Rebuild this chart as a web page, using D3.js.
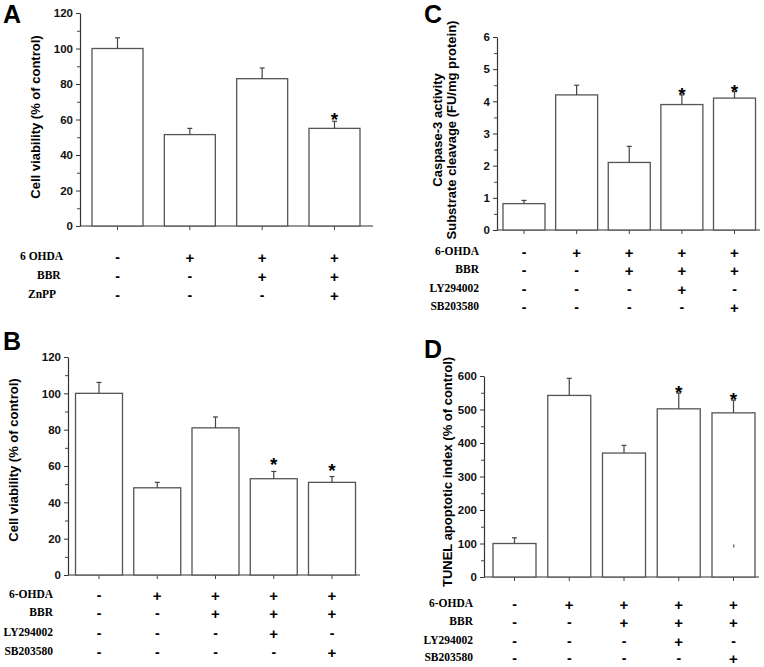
<!DOCTYPE html>
<html>
<head>
<meta charset="utf-8">
<script src="https://cdn.jsdelivr.net/npm/d3@7"></script>
<style>
  body { margin: 0; background: #fff; }
  svg { display: block; }
  .tick text { font-family: Arial, "Liberation Sans", sans-serif; font-weight: bold; font-size: 11.5px; fill: #111; }
</style>
</head>
<body>
<div id="chart"></div>
<script>
// ---- data ----
var groupsA = ["Control", "6-OHDA", "6-OHDA+BBR", "6-OHDA+BBR+ZnPP"];
var valuesA = [100, 51.5, 83, 55];
var errorsA = [6, 3.5, 6, 4];
var starsA = [false, false, false, true];
var rowsA = ["6 OHDA", "BBR", "ZnPP"];
var signsA = [["-", "+", "+", "+"], ["-", "-", "+", "+"], ["-", "-", "-", "+"]];

var groupsB = ["Control", "6-OHDA", "6-OHDA+BBR", "+LY294002", "+SB203580"];
var valuesB = [100, 48, 81, 53, 51];
var errorsB = [6, 3, 6, 4, 3.2];
var starsB = [false, false, false, true, true];

var groupsC = groupsB;
var valuesC = [0.82, 4.2, 2.1, 3.9, 4.1];
var errorsC = [0.1, 0.3, 0.5, 0.3, 0.2];
var starsC = [false, false, false, true, true];

var groupsD = groupsB;
var valuesD = [100, 542, 370, 502, 490];
var errorsD = [17, 51, 23, 47, 38];
var starsD = [false, false, false, true, true];

var rowsBCD = ["6-OHDA", "BBR", "LY294002", "SB203580"];
var signsBCD = [["-", "+", "+", "+", "+"], ["-", "-", "+", "+", "+"], ["-", "-", "-", "+", "-"], ["-", "-", "-", "-", "+"]];

var ticksA = [0, 20, 40, 60, 80, 100, 120];
var ticksC = [0, 1, 2, 3, 4, 5, 6];
var ticksD = [0, 100, 200, 300, 400, 500, 600];

var svg = d3.select("#chart").append("svg")
  .attr("width", 764)
  .attr("height", 667);

function drawPanel(p) {
  var g = svg.append("g");

  var n = p.groups.length;
  var step = (p.c1 - p.c0) / (n - 1);
  var pi = 1 - p.bw / step;
  var x = d3.scaleBand()
    .domain(p.groups)
    .range([p.c0 - step / 2, p.c1 + step / 2])
    .paddingInner(pi)
    .paddingOuter(pi / 2);

  var y = d3.scaleLinear()
    .domain([0, d3.max(p.ticks)])
    .range([p.y0, p.y1]);

  // panel letter
  g.append("text")
    .attr("x", p.letterX).attr("y", p.letterY)
    .attr("font-family", "Arial, 'Liberation Sans', sans-serif")
    .attr("font-weight", "bold").attr("font-size", 25)
    .text(p.letter);

  // minor ticks
  var minor = [];
  for (var i = 0; i < p.ticks.length - 1; i++) minor.push((p.ticks[i] + p.ticks[i + 1]) / 2);
  g.append("g")
    .attr("transform", "translate(" + p.ax + ",0)")
    .call(d3.axisLeft(y).tickValues(minor).tickSize(3).tickFormat(""))
    .call(function(s) { s.select(".domain").remove(); s.selectAll("line").attr("stroke", "#444"); });

  // y axis
  g.append("g")
    .attr("transform", "translate(" + p.ax + ",0)")
    .call(d3.axisLeft(y).tickValues(p.ticks).tickFormat(d3.format("d")).tickSize(4).tickSizeOuter(0).tickPadding(3))
    .call(function(s) {
      s.select(".domain").attr("stroke", "#333").attr("stroke-width", 1.2);
      s.selectAll("line").attr("stroke", "#333");
    });

  // x axis
  g.append("g")
    .attr("transform", "translate(0," + p.y0 + ")")
    .call(d3.axisBottom(x).tickSize(4).tickFormat(""))
    .call(function(s) {
      s.select(".domain").remove();
      s.selectAll("line").attr("stroke", "#444");
    });
  g.append("line")
    .attr("x1", p.ax).attr("x2", p.xEnd)
    .attr("y1", p.y0).attr("y2", p.y0)
    .attr("stroke", "#333").attr("stroke-width", 1.2);

  // bars
  g.selectAll(".bar")
    .data(p.values)
    .enter().append("rect")
    .attr("class", "bar")
    .attr("x", function(d, i) { return x(p.groups[i]); })
    .attr("y", function(d) { return y(d); })
    .attr("width", x.bandwidth())
    .attr("height", function(d) { return p.y0 - y(d); })
    .attr("fill", "#fff")
    .attr("stroke", "#555")
    .attr("stroke-width", 1.3);

  // error bars (upper half)
  var cx = function(i) { return x(p.groups[i]) + x.bandwidth() / 2; };
  p.values.forEach(function(v, i) {
    var top = y(v + p.errors[i]);
    g.append("line")
      .attr("x1", cx(i)).attr("x2", cx(i))
      .attr("y1", y(v)).attr("y2", top)
      .attr("stroke", "#444").attr("stroke-width", 1.2);
    g.append("line")
      .attr("x1", cx(i) - 2.5).attr("x2", cx(i) + 2.5)
      .attr("y1", top).attr("y2", top)
      .attr("stroke", "#444").attr("stroke-width", 1.2);
    if (p.stars[i]) {
      g.append("text")
        .attr("x", cx(i)).attr("y", top - p.starGap)
        .attr("text-anchor", "middle")
        .attr("font-family", "Arial, 'Liberation Sans', sans-serif")
        .attr("font-weight", "bold").attr("font-size", 19)
        .text("*");
    }
  });

  // y axis label(s)
  p.ylabel.forEach(function(t, k) {
    g.append("text")
      .attr("transform", "translate(" + p.ylx[k] + "," + p.yly + ") rotate(-90)")
      .attr("text-anchor", "middle")
      .attr("dominant-baseline", "middle")
      .attr("font-family", "Arial, 'Liberation Sans', sans-serif")
      .attr("font-weight", "bold").attr("font-size", 13)
      .text(t);
  });

  // treatment table
  p.rows.forEach(function(r, j) {
    var ry = p.rowY[j];
    g.append("text")
      .attr("x", p.rowX[j]).attr("y", ry)
      .attr("text-anchor", p.rowAnchor)
      .attr("dominant-baseline", "middle")
      .attr("font-family", "'Liberation Serif', 'Times New Roman', serif")
      .attr("font-weight", "bold").attr("font-size", 11.5)
      .text(r);
    p.signs[j].forEach(function(sg, i) {
      g.append("text")
        .attr("x", cx(i)).attr("y", ry)
        .attr("text-anchor", "middle")
        .attr("dominant-baseline", "central")
        .attr("font-family", "Arial, 'Liberation Sans', sans-serif")
        .attr("font-weight", "bold").attr("font-size", sg === "+" ? 15 : 14)
        .text(sg);
    });
  });

  return { x: x, y: y, g: g, cx: cx };
}

drawPanel({
  letter: "A", letterX: 3, letterY: 23,
  groups: groupsA, values: valuesA, errors: errorsA, stars: starsA, ticks: ticksA,
  c0: 117.5, c1: 334.5, bw: 51, ax: 80, xEnd: 373, y0: 226, y1: 13, starGap: -5,
  ylabel: ["Cell viability (% of control)"], ylx: [37], yly: 117,
  rows: rowsA, signs: signsA, rowX: [20, 37, 28], rowAnchor: "start", rowY: [257, 276, 295]
});

drawPanel({
  letter: "B", letterX: 3, letterY: 350,
  groups: groupsB, values: valuesB, errors: errorsB, stars: starsB, ticks: ticksA,
  c0: 99, c1: 332, bw: 47, ax: 68, xEnd: 360, y0: 575, y1: 357, starGap: 0,
  ylabel: ["Cell viability (% of control)"], ylx: [15], yly: 460,
  rows: rowsBCD, signs: signsBCD, rowX: [53, 53, 53, 53], rowAnchor: "end", rowY: [595, 613, 633, 652]
});

drawPanel({
  letter: "C", letterX: 424, letterY: 23,
  groups: groupsC, values: valuesC, errors: errorsC, stars: starsC, ticks: ticksC,
  c0: 524, c1: 734.5, bw: 42, ax: 497, xEnd: 760, y0: 230, y1: 37, starGap: -6,
  ylabel: ["Caspase-3 activity", "Substrate cleavage (FU/mg protein)"], ylx: [439, 453], yly: 130,
  rows: rowsBCD, signs: signsBCD, rowX: [479, 479, 479, 479], rowAnchor: "end", rowY: [252, 270, 289, 307]
});

var pD = drawPanel({
  letter: "D", letterX: 424, letterY: 358,
  groups: groupsD, values: valuesD, errors: errorsD, stars: starsD, ticks: ticksD,
  c0: 514.5, c1: 733.5, bw: 43, ax: 484, xEnd: 759, y0: 577, y1: 376, starGap: -6,
  ylabel: ["TUNEL apoptotic index (% of control)"], ylx: [449], yly: 472,
  rows: rowsBCD, signs: signsBCD, rowX: [473, 473, 473, 473], rowAnchor: "end", rowY: [604, 622, 641, 658]
});

// small stray mark inside the last bar of D
pD.g.append("rect")
  .attr("x", pD.cx(4) - 0.5).attr("y", pD.y(97))
  .attr("width", 1.5).attr("height", 3)
  .attr("fill", "#777");
</script>
</body>
</html>
